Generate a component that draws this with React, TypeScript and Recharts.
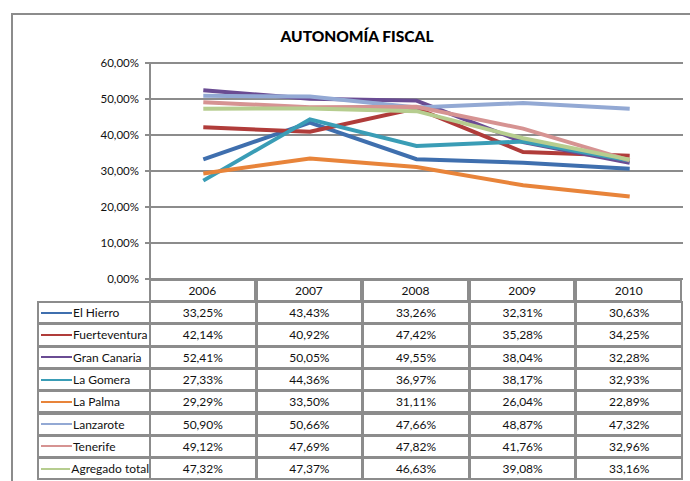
import React from "react";
import { LineChart, Line, XAxis, YAxis, CartesianGrid } from "recharts";

const years = ["2006", "2007", "2008", "2009", "2010"];

const elHierro = [33.25, 43.43, 33.26, 32.31, 30.63];
const fuerteventura = [42.14, 40.92, 47.42, 35.28, 34.25];
const granCanaria = [52.41, 50.05, 49.55, 38.04, 32.28];
const laGomera = [27.33, 44.36, 36.97, 38.17, 32.93];
const laPalma = [29.29, 33.5, 31.11, 26.04, 22.89];
const lanzarote = [50.9, 50.66, 47.66, 48.87, 47.32];
const tenerife = [49.12, 47.69, 47.82, 41.76, 32.96];
const agregado = [47.32, 47.37, 46.63, 39.08, 33.16];

const yTicks = [0, 10, 20, 30, 40, 50, 60];

const series = [
  { key: "elHierro", name: "El Hierro", values: elHierro, color: "#3f6fae" },
  { key: "fuerteventura", name: "Fuerteventura", values: fuerteventura, color: "#b03c3a" },
  { key: "granCanaria", name: "Gran Canaria", values: granCanaria, color: "#6a4c93" },
  { key: "laGomera", name: "La Gomera", values: laGomera, color: "#3a9db6" },
  { key: "laPalma", name: "La Palma", values: laPalma, color: "#e8843a" },
  { key: "lanzarote", name: "Lanzarote", values: lanzarote, color: "#93a9d4" },
  { key: "tenerife", name: "Tenerife", values: tenerife, color: "#d69392" },
  { key: "agregado", name: "Agregado total", values: agregado, color: "#b6cd8f" },
];

const data = years.map((y, i) => {
  const row: Record<string, string | number> = { year: y };
  series.forEach((s) => (row[s.key] = s.values[i]));
  return row;
});

const fmt = (v: number) => v.toFixed(2).replace(".", ",") + "%";

const FONT = "Lato, 'Open Sans', sans-serif";
const GRID = "#8c8c8c";

// table geometry
const plotLeft = 150;
const plotRight = 683;
const tableTop = 279;
const headerH = 23;
const rowH = 22.3;
const legendLeft = 37;
const colW = (plotRight - plotLeft) / years.length;

export default function App() {
  const cells: React.ReactNode[] = [];
  years.forEach((y, c) => {
    cells.push(
      <div
        key={"h" + y}
        style={{
          position: "absolute",
          left: plotLeft + c * colW,
          top: tableTop,
          width: colW,
          height: headerH,
          border: `2px solid ${GRID}`,
          boxSizing: "border-box",
          marginLeft: -1,
          display: "flex",
          alignItems: "center",
          justifyContent: "center",
          fontSize: 12,
          color: "#111",
        }}
      >
        {y}
      </div>
    );
  });
  series.forEach((s, r) => {
    const top = tableTop + headerH + r * rowH;
    cells.push(
      <div
        key={"l" + s.key}
        style={{
          position: "absolute",
          left: legendLeft,
          top: top - 1,
          width: plotLeft - legendLeft + 1,
          height: rowH + 1,
          border: `2px solid ${GRID}`,
          boxSizing: "border-box",
          display: "flex",
          alignItems: "center",
          fontSize: 12,
          color: "#111",
          whiteSpace: "nowrap",
        }}
      >
        <span style={{ display: "inline-block", width: 31, height: 2, background: s.color, marginLeft: 2, marginRight: 1 }} />
        {s.name}
      </div>
    );
    s.values.forEach((v, c) => {
      cells.push(
        <div
          key={s.key + c}
          style={{
            position: "absolute",
            left: plotLeft + c * colW - 1,
            top: top - 1,
            width: colW + 1,
            height: rowH + 1,
            border: `2px solid ${GRID}`,
            boxSizing: "border-box",
            display: "flex",
            alignItems: "center",
            justifyContent: "center",
            fontSize: 12,
            color: "#111",
          }}
        >
          {fmt(v)}
        </div>
      );
    });
  });

  return (
    <div style={{ position: "absolute", left: 0, top: 0, width: 690, height: 481, background: "#fff", fontFamily: FONT, overflow: "hidden" }}>
      <div style={{ position: "absolute", left: 11, top: 13, width: 700, height: 500, border: `2px solid ${GRID}`, boxSizing: "border-box" }} />
      <div style={{ position: "absolute", left: 0, top: 27, width: 714, textAlign: "center", fontWeight: 900, fontSize: 15.5, color: "#000" }}>
        AUTONOMÍA FISCAL
      </div>
      <div style={{ position: "absolute", left: 0, top: 0 }}>
        <LineChart width={690} height={481} data={data} margin={{ top: 63, right: 7, bottom: 202, left: 0 }}>
          <CartesianGrid vertical={false} stroke={GRID} strokeWidth={2} />
          <XAxis dataKey="year" hide padding={{ left: colW / 2, right: colW / 2 }} />
          <YAxis
            width={150}
            domain={[0, 60]}
            ticks={yTicks}
            interval={0}
            tickFormatter={fmt}
            stroke={GRID}
            strokeWidth={2}
            tickSize={5}
            tickMargin={6}
            tick={{ fill: "#111", fontSize: 11.5, fontFamily: FONT }}
          />
          {series.map((s) => (
            <Line
              key={s.key}
              dataKey={s.key}
              name={s.name}
              type="linear"
              stroke={s.color}
              strokeWidth={4}
              dot={false}
              isAnimationActive={false}
            />
          ))}
        </LineChart>
      </div>
      {cells}
    </div>
  );
}
